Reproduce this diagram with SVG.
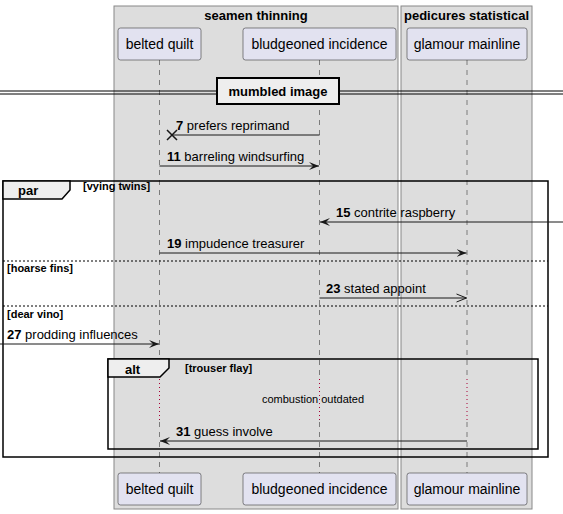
<svg xmlns="http://www.w3.org/2000/svg" width="563" height="514" viewBox="0 0 563 514">
<defs>
<style>
text{font-family:"Liberation Sans",Arial,sans-serif;fill:#000}
.box{fill:#DDDDDD;stroke:#888888;stroke-width:1}
.bt{font-size:13px;font-weight:bold;text-anchor:middle}
.part{fill:#E2E2F0;stroke:#181818;stroke-width:0.5}
.pt{font-size:14px;text-anchor:middle}
.life{stroke:#181818;stroke-width:0.5;stroke-dasharray:5,5;fill:none}
.delay{stroke:#A80036;stroke-width:1;stroke-dasharray:1,3;fill:none}
.msg{stroke:#181818;stroke-width:1;fill:none}
.mt{font-size:13px}
.num{font-weight:bold}
.frame{fill:none;stroke:#000;stroke-width:1.5}
.tab{fill:#EEEEEE;stroke:#000;stroke-width:1.5}
.ft{font-size:13px;font-weight:bold}
.gt{font-size:11px;font-weight:bold}
.sep{stroke:#000;stroke-width:1;stroke-dasharray:2,2}
</style>
<marker id="fa" viewBox="0 0 10 8" refX="10" refY="4" markerWidth="10" markerHeight="8" orient="auto-start-reverse" markerUnits="userSpaceOnUse">
<polygon points="0,0 10,4 0,8 4,4" fill="#181818"/>
</marker>
<marker id="oa" viewBox="0 0 12 10" refX="11" refY="5" markerWidth="12" markerHeight="10" orient="auto-start-reverse" markerUnits="userSpaceOnUse">
<polyline points="1,1 11,5 1,9" fill="none" stroke="#181818" stroke-width="1"/>
</marker>
</defs>
<g id="box-seamen-thinning">
<rect class="box" x="114" y="6" width="284" height="503"/>
<text class="bt" x="256" y="20">seamen thinning</text>
</g>
<g id="box-pedicures-statistical">
<rect class="box" x="401" y="6" width="131" height="503"/>
<text class="bt" x="466.5" y="20">pedicures statistical</text>
</g>
<g id="lifelines">
<path class="life" d="M159.5,60 V377 M159.5,422 V473"/>
<path class="life" d="M319.5,60 V377 M319.5,422 V473"/>
<path class="life" d="M467,60 V377 M467,422 V473"/>
<path class="delay" d="M159.5,379 V422 M319.5,379 V422 M467,379 V422"/>
</g>
<g id="belted-quilt">
<rect class="part" x="118" y="28" width="83" height="32" rx="2.5"/>
<text class="pt" x="159.5" y="49">belted quilt</text>
<rect class="part" x="118" y="473" width="83" height="32" rx="2.5"/>
<text class="pt" x="159.5" y="494">belted quilt</text>
</g>
<g id="bludgeoned-incidence">
<rect class="part" x="243" y="28" width="153" height="32" rx="2.5"/>
<text class="pt" x="319.5" y="49">bludgeoned incidence</text>
<rect class="part" x="243" y="473" width="153" height="32" rx="2.5"/>
<text class="pt" x="319.5" y="494">bludgeoned incidence</text>
</g>
<g id="glamour-mainline">
<rect class="part" x="407" y="28" width="120" height="32" rx="2.5"/>
<text class="pt" x="467" y="49">glamour mainline</text>
<rect class="part" x="407" y="473" width="120" height="32" rx="2.5"/>
<text class="pt" x="467" y="494">glamour mainline</text>
</g>
<g id="divider-mumbled-image">
<line x1="0" y1="91" x2="563" y2="91" stroke="#000" stroke-width="1"/>
<line x1="0" y1="94" x2="563" y2="94" stroke="#000" stroke-width="1"/>
<rect x="217" y="78" width="122" height="26" fill="#EEEEEE" stroke="#000" stroke-width="2"/>
<text class="ft" x="278" y="96" text-anchor="middle">mumbled image</text>
</g>
<g id="frame-par">
<rect class="frame" x="3" y="181" width="545" height="276"/>
<path class="tab" d="M3,181 H70 V190 L62,199 H3 Z"/>
<text class="ft" x="18" y="195">par</text>
<text class="gt" x="83" y="190">[vying twins]</text>
<line class="sep" x1="3" y1="261" x2="548" y2="261"/>
<text class="gt" x="7" y="272">[hoarse fins]</text>
<line class="sep" x1="3" y1="306" x2="548" y2="306"/>
<text class="gt" x="7" y="318">[dear vino]</text>
</g>
<g id="frame-alt">
<rect class="frame" x="108" y="359" width="430" height="90"/>
<path class="tab" d="M108,359 H169 V368 L160,377 H108 Z"/>
<text class="ft" x="125" y="374">alt</text>
<text class="gt" x="185" y="372">[trouser flay]</text>
<text x="313" y="403" font-size="11" text-anchor="middle">combustion outdated</text>
</g>
<g id="connectors">
<line class="msg" x1="319.5" y1="135" x2="172" y2="135"/>
<path d="M167,130 L177,140 M167,140 L177,130" stroke="#181818" stroke-width="1.5"/>
<text class="mt" x="176" y="130"><tspan class="num">7</tspan> prefers reprimand</text>
<line class="msg" x1="159.5" y1="166" x2="319" y2="166" marker-end="url(#fa)"/>
<text class="mt" x="167" y="161"><tspan class="num">11</tspan> barreling windsurfing</text>
<line class="msg" x1="563" y1="222" x2="320" y2="222" marker-end="url(#fa)"/>
<text class="mt" x="336" y="217"><tspan class="num">15</tspan> contrite raspberry</text>
<line class="msg" x1="159.5" y1="253" x2="466.5" y2="253" marker-end="url(#fa)"/>
<text class="mt" x="167" y="248"><tspan class="num">19</tspan> impudence treasurer</text>
<line class="msg" x1="319.5" y1="298" x2="466.5" y2="298" marker-end="url(#oa)"/>
<text class="mt" x="326" y="293"><tspan class="num">23</tspan> stated appoint</text>
<line class="msg" x1="0" y1="344" x2="159" y2="344" marker-end="url(#fa)"/>
<text class="mt" x="7" y="339"><tspan class="num">27</tspan> prodding influences</text>
<line class="msg" x1="467" y1="441" x2="160" y2="441" marker-end="url(#fa)"/>
<text class="mt" x="176" y="436"><tspan class="num">31</tspan> guess involve</text>
</g>
</svg>
